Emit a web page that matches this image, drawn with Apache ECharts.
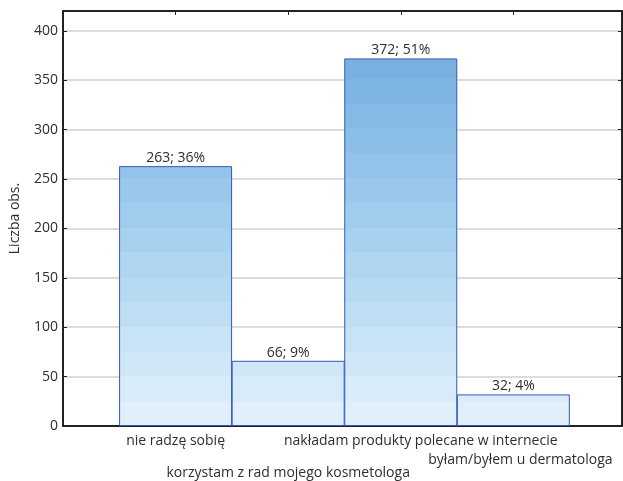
<!DOCTYPE html>
<html lang="pl">
<head>
    <meta charset="UTF-8">
    <title>Liczba obs.</title>
    <script src="https://cdn.jsdelivr.net/npm/echarts@6/dist/echarts.min.js"></script>
    <style>
        html, body { margin: 0; padding: 0; background: #fff; }
        #main { width: 623px; height: 481px; }
    </style>
</head>
<body>
<div id="main"></div>
<script>
    // dane
    var categories = ['nie radzę sobię', 'korzystam z rad mojego kosmetologa', 'nakładam produkty polecane w internecie', 'byłam/byłem u dermatologa'];
    var counts = [263, 66, 372, 32];
    var percents = [36, 9, 51, 4];
    var yTicks = [0, 50, 100, 150, 200, 250, 300, 350, 400];

    var font = '"Open Sans", sans-serif';
    var textColor = '#2e2e2e';
    var fs = 14;

    // pasmowy gradient (globalne współrzędne w pikselach)
    function lerp(a, b, t) { return Math.round(a + (b - a) * t); }
    function hex(c) { return [parseInt(c.substr(1, 2), 16), parseInt(c.substr(3, 2), 16), parseInt(c.substr(5, 2), 16)]; }
    function mix(c1, c2, t) {
        var a = hex(c1), b = hex(c2);
        return 'rgb(' + lerp(a[0], b[0], t) + ',' + lerp(a[1], b[1], t) + ',' + lerp(a[2], b[2], t) + ')';
    }
    var bands = 15;
    var stops = [];
    for (var i = 0; i < bands; i++) {
        var t = i / (bands - 1);
        var col = t < 0.5 ? mix('#79b0e0', '#a6d2f0', t * 2) : mix('#a6d2f0', '#e0eff9', (t - 0.5) * 2);
        stops.push({offset: i / bands, color: col});
        stops.push({offset: (i + 1) / bands - 0.0001, color: col});
    }
    var barFill = new echarts.graphic.LinearGradient(0, 54, 0, 426, stops, true);

    var levels = ['a', 'c', 'd', 'b'];
    var axisColor = '#222';

    function frameAxis(extra) {
        var ax = {
            type: 'value',
            axisLine: {show: true, onZero: false, lineStyle: {color: axisColor, width: 2}},
            axisTick: {show: true, inside: true, length: 4, lineStyle: {color: axisColor}},
            axisLabel: {show: false},
            splitLine: {show: false}
        };
        for (var k in extra) ax[k] = extra[k];
        return ax;
    }

    var chart = echarts.init(document.getElementById('main'));
    var option = {
        animation: false,
        grid: {left: 61, top: 11, right: 1, bottom: 55},
        xAxis: [frameAxis({
            min: 0,
            max: 4.965,
            interval: 1,
            position: 'bottom',
            axisLabel: {
                margin: 8,
                fontFamily: font,
                fontSize: fs,
                color: textColor,
                showMaxLabel: false,
                formatter: function (v) {
                    if (v < 1 || v > 4) return '';
                    return '{' + levels[v - 1] + '|' + categories[v - 1] + '}';
                },
                rich: {
                    a: {fontFamily: font, fontSize: fs, color: textColor, padding: [0, 0, 0, 0]},
                    b: {fontFamily: font, fontSize: fs, color: textColor, padding: [19, 0, 0, 14]},
                    c: {fontFamily: font, fontSize: fs, color: textColor, padding: [32, 0, 0, 0]},
                    d: {fontFamily: font, fontSize: fs, color: textColor, padding: [0, 0, 0, 40]}
                }
            }
        }), frameAxis({
            min: 0,
            max: 4.965,
            interval: 1,
            position: 'top'
        })],
        yAxis: [frameAxis({
            min: 0,
            max: 420,
            interval: 50,
            position: 'left',
            name: 'Liczba obs.',
            nameLocation: 'middle',
            nameGap: 41,
            nameTextStyle: {fontFamily: font, fontSize: fs, color: textColor},
            axisLabel: {
                margin: 5,
                fontFamily: font,
                fontSize: fs,
                color: textColor,
                showMaxLabel: false,
                formatter: function (v) { return yTicks.indexOf(v) >= 0 ? String(v) : ''; }
            },
            splitLine: {show: true, lineStyle: {color: '#dcdcdc', width: 2}}
        }), frameAxis({
            min: 0,
            max: 420,
            interval: 50,
            position: 'right'
        })],
        series: [{
            type: 'bar',
            barWidth: 113,
            data: counts.map(function (c, i) { return [i + 1, c]; }),
            itemStyle: {color: barFill, borderColor: '#3458bb', borderWidth: 1},
            label: {
                show: true,
                position: 'top',
                distance: 1,
                fontFamily: font,
                fontSize: fs,
                color: textColor,
                formatter: function (p) { return counts[p.dataIndex] + '; ' + percents[p.dataIndex] + '%'; }
            }
        }]
    };
    chart.setOption(option);
</script>
</body>
</html>
